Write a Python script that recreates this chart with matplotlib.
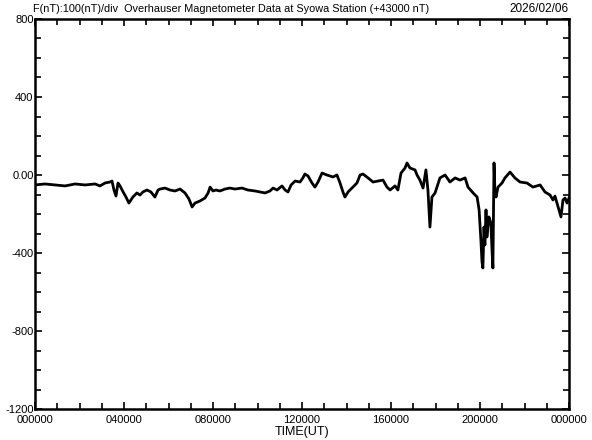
import matplotlib
matplotlib.use("Agg")
import matplotlib.pyplot as plt
from matplotlib.ticker import MultipleLocator, FixedLocator

plt.rcParams['font.family'] = ['Liberation Sans Narrow', 'Liberation Sans', 'DejaVu Sans']

# time in hours (UT) and total force offset from 43000 nT
hours = [0.00, 0.45, 0.90, 1.35, 1.80, 2.25, 2.70, 2.92, 3.15, 3.37, 3.46, 3.55, 3.64, 3.73,
         3.82, 3.96, 4.09, 4.22, 4.40, 4.58, 4.72, 4.85, 5.03, 5.21, 5.39, 5.53, 5.62, 5.84,
         6.07, 6.29, 6.52, 6.74, 6.92, 7.06, 7.19, 7.42, 7.64, 7.78, 7.87, 8.00, 8.13, 8.31,
         8.54, 8.76, 8.99, 9.30, 9.57, 9.89, 10.11, 10.34, 10.56, 10.70, 10.88, 11.10, 11.24,
         11.37, 11.51, 11.69, 11.91, 12.04, 12.13, 12.27, 12.45, 12.58, 12.72, 12.90, 13.12,
         13.39, 13.57, 13.71, 13.84, 13.93, 14.07, 14.29, 14.47, 14.61, 14.74, 14.97, 15.19,
         15.42, 15.64, 15.82, 15.96, 16.18, 16.31, 16.45, 16.63, 16.72, 16.85, 17.08, 17.17,
         17.30, 17.44, 17.57, 17.66, 17.75, 17.84, 17.98, 18.20, 18.43, 18.65, 18.88, 19.10,
         19.33, 19.46, 19.69, 19.87, 19.96, 20.04, 20.09, 20.13, 20.18, 20.22, 20.27, 20.31,
         20.40, 20.49, 20.54, 20.58, 20.63, 20.67, 20.72, 20.81, 20.99, 21.12, 21.35, 21.57,
         21.80, 22.11, 22.38, 22.70, 22.92, 23.15, 23.28, 23.37, 23.51, 23.64, 23.73, 23.82,
         23.91, 24.00]
f_nt = [-51, -46, -51, -56, -46, -51, -46, -56, -41, -36, -31, -77, -108, -41,
        -56, -87, -113, -144, -113, -92, -103, -87, -77, -87, -113, -77, -72, -67,
        -77, -82, -72, -92, -123, -164, -144, -133, -118, -92, -62, -82, -77, -82,
        -72, -67, -72, -67, -77, -82, -87, -92, -82, -67, -77, -56, -77,
        -87, -51, -31, -36, -15, 5, -5, -41, -62, -36, 10, 0,
        -10, 0, -41, -87, -113, -87, -62, -41, 0, 5, -15, -36,
        -31, -26, -62, -77, -56, -77, 10, 36, 62, 36, 26, 0,
        -26, -67, 26, -77, -267, -113, -92, -15, 0, -36, -15, -26,
        -15, -62, -92, -113, -179, -333, -446, -477, -267, -359, -179, -318,
        -215, -246, -385, -477, 62, -77, -113, -62, -41, -15, 15, -15,
        -36, -41, -62, -51, -87, -103, -128, -108, -164, -215, -128, -118,
        -144, -118]

x_ticks = [0, 4, 8, 12, 16, 20, 24]
x_labels = ["000000", "040000", "080000", "120000", "160000", "200000", "000000"]
y_ticks = [-1200, -800, -400, 0, 400, 800]
y_labels = ["-1200", "-800", "-400", "0.00", "400", "800"]

fig = plt.figure(figsize=(5.92, 4.40), dpi=100)
ax = fig.add_axes([35 / 592, 1 - 409 / 440, 534 / 592, 390 / 440])
ax.plot(hours, f_nt, color="black", linewidth=2.0)

ax.set_xlim(0, 24)
ax.set_ylim(-1200, 800)
ax.xaxis.set_major_locator(FixedLocator(x_ticks))
ax.set_xticklabels(x_labels)
ax.xaxis.set_minor_locator(MultipleLocator(1))
ax.yaxis.set_major_locator(FixedLocator(y_ticks))
ax.set_yticklabels(y_labels)
ax.yaxis.set_minor_locator(MultipleLocator(100))

ax.tick_params(which="both", direction="in", top=True, right=True, width=1.2,
               labelsize=8, pad=1)
ax.tick_params(axis="x", pad=4)
ax.tick_params(which="major", length=5)
ax.tick_params(which="minor", length=4)
for s in ax.spines.values():
    s.set_linewidth(1.8)

ax.set_xlabel("TIME(UT)", fontsize=9, labelpad=1)
fig.text(33 / 592, 1 - 12 / 440, "F(nT):100(nT)/div  Overhauser Magnetometer Data at Syowa Station (+43000 nT)",
         fontsize=7.8, ha="left", va="baseline")
fig.text(569 / 592, 1 - 12 / 440, "2026/02/06", fontsize=8.5, ha="right", va="baseline")

fig.savefig("out.png", dpi=100)
